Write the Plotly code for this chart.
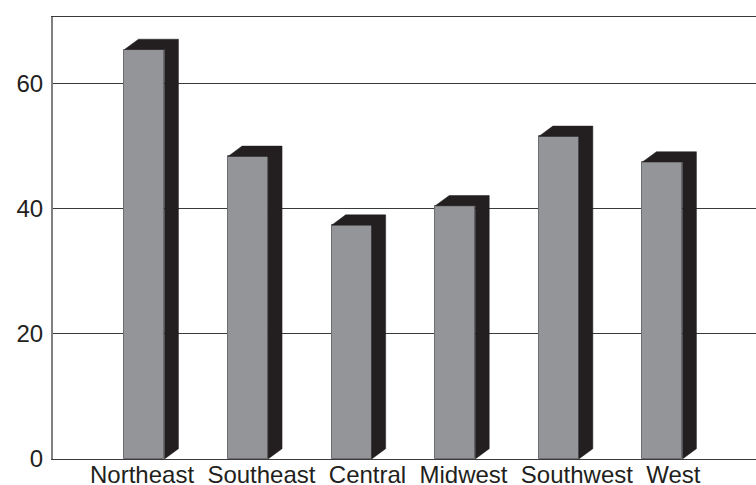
import plotly.graph_objects as go

# Regional values shown as 3-D style columns
regions = ["Northeast", "Southeast", "Central", "Midwest", "Southwest", "West"]
values = [65.5, 48.4, 37.4, 40.5, 51.6, 47.5]
y_ticks = [0, 20, 40, 60]

FRONT = "#939598"
FRONT_EDGE = "#6d6e71"
DARK = "#231f20"
FONT = "Liberation Sans, Arial, Helvetica, sans-serif"

bar_w = 0.386     # column width in category units
depth_x = 0.135   # 3-D depth offset, x (category units)
depth_y = 1.65    # 3-D depth offset, y (value units)

xs = list(range(len(regions)))

fig = go.Figure()

# front faces
fig.add_trace(go.Bar(
    x=xs, y=values, width=bar_w,
    marker=dict(color=FRONT, line=dict(color=FRONT_EDGE, width=1)),
    hoverinfo="skip", showlegend=False,
))

# dark side + top faces, one polygon per column
for x, v in zip(xs, values):
    l, r = x - bar_w / 2, x + bar_w / 2
    px = [r, r + depth_x, r + depth_x, l + depth_x, l, r, r]
    py = [0, depth_y, v + depth_y, v + depth_y, v, v, 0]
    fig.add_trace(go.Scatter(
        x=px, y=py, mode="lines", fill="toself",
        fillcolor=DARK, line=dict(color=DARK, width=0.5),
        hoverinfo="skip", showlegend=False,
    ))

# category names set as one running line of text under the axis
fig.add_annotation(
    text="\u00a0\u00a0".join(regions),
    xref="paper", yref="paper", x=0.0495, y=-0.034,
    xanchor="left", yanchor="middle", showarrow=False,
    font=dict(family=FONT, size=24, color=DARK),
)

fig.update_layout(
    width=756, height=485,
    margin=dict(l=53, r=0, t=17, b=26, autoexpand=False),
    paper_bgcolor="white", plot_bgcolor="white",
    font=dict(family=FONT, size=24, color=DARK),
    bargap=0,
    xaxis=dict(
        range=[-0.883, 5.903],
        tickmode="array", tickvals=xs, ticktext=[""] * len(xs),
        showgrid=False, zeroline=False,
        showline=True, mirror=True, linecolor="#3a3a3a", linewidth=1,
        ticks="", automargin=False,
        fixedrange=True,
    ),
    yaxis=dict(
        range=[0, 70.7],
        tickmode="array", tickvals=y_ticks,
        showgrid=True, gridcolor="#3a3a3a", gridwidth=1,
        zeroline=False,
        showline=True, linecolor="#808080", linewidth=2,
        ticks="", ticklabelstandoff=3,
        automargin=False,
        fixedrange=True,
    ),
)

fig.write_html("out.html")
